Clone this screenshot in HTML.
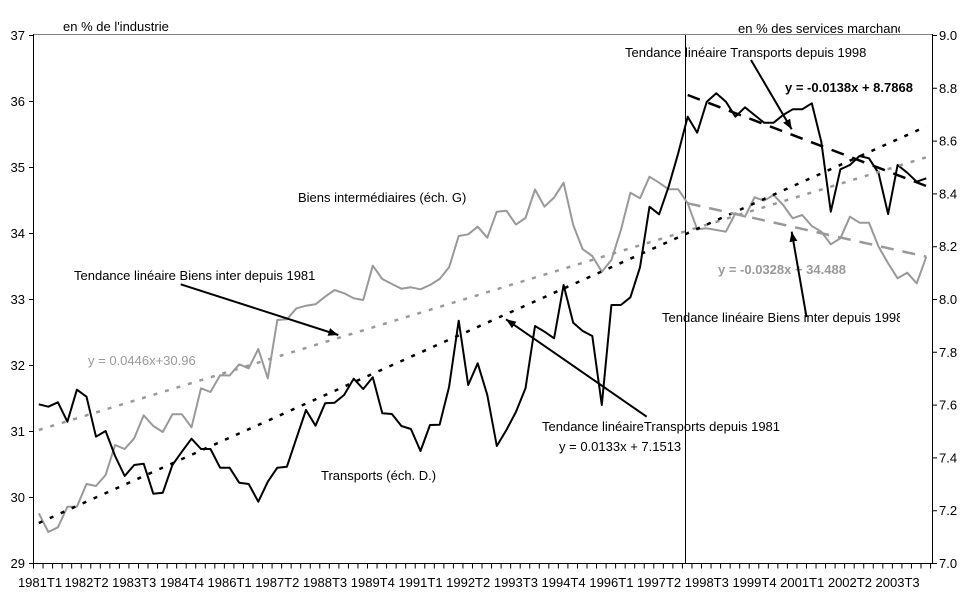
<!DOCTYPE html>
<html><head><meta charset="utf-8"><style>
html,body{margin:0;padding:0;background:#fff;}
svg{display:block;}
text{font-family:"Liberation Sans",Arial,sans-serif;font-size:13px;fill:#000;}
</style></head><body>
<svg width="970" height="603" viewBox="0 0 970 603" xmlns="http://www.w3.org/2000/svg">
<defs>
<marker id="ah" markerUnits="userSpaceOnUse" markerWidth="11" markerHeight="9" refX="10" refY="4" orient="auto"><path d="M0,0 L10,4 L0,8 z" fill="#000"/></marker>
<clipPath id="clipR"><rect x="0" y="0" width="900" height="603"/></clipPath>
</defs>
<rect width="970" height="603" fill="#fff"/>
<!-- plot frame -->
<line x1="33" y1="34.5" x2="932" y2="34.5" stroke="#808080" stroke-width="1"/>
<line x1="33.5" y1="34" x2="33.5" y2="564" stroke="#000" stroke-width="1"/>
<line x1="932.5" y1="34" x2="932.5" y2="564" stroke="#000" stroke-width="1"/>
<line x1="33" y1="563.5" x2="933" y2="563.5" stroke="#000" stroke-width="1"/>
<!-- ticks -->
<line x1="29" y1="35" x2="29" y2="564" stroke="#000" stroke-width="0"/>
<path d="M29,35.5h4M29,101.5h4M29,167.5h4M29,233.5h4M29,299.5h4M29,365.5h4M29,431.5h4M29,497.5h4M29,563.5h4" stroke="#000" stroke-width="1"/>
<path d="M933,35.5h4M933,88.3h4M933,141.1h4M933,193.9h4M933,246.7h4M933,299.5h4M933,352.3h4M933,405.1h4M933,457.9h4M933,510.7h4M933,563.5h4" stroke="#000" stroke-width="1"/>
<line x1="33" y1="566" x2="933" y2="566" stroke="#000" stroke-width="5" stroke-dasharray="1 8.543"/>
<!-- vertical 1998 line -->
<line x1="685.5" y1="35" x2="685.5" y2="563" stroke="#000" stroke-width="1"/>
<!-- axis labels -->
<g text-anchor="end">
<text x="25" y="40">37</text><text x="25" y="106">36</text><text x="25" y="172">35</text><text x="25" y="238">34</text><text x="25" y="304">33</text><text x="25" y="370">32</text><text x="25" y="436">31</text><text x="25" y="502">30</text><text x="25" y="568">29</text>
</g>
<g>
<text x="939" y="40">9.0</text><text x="939" y="92.8">8.8</text><text x="939" y="145.6">8.6</text><text x="939" y="198.4">8.4</text><text x="939" y="251.2">8.2</text><text x="939" y="304">8.0</text><text x="939" y="356.8">7.8</text><text x="939" y="409.6">7.6</text><text x="939" y="462.4">7.4</text><text x="939" y="515.2">7.2</text><text x="939" y="568">7.0</text>
</g>
<g text-anchor="middle">
<text x="40" y="587">1981T1</text><text x="86.5" y="587">1982T2</text><text x="134.2" y="587">1983T3</text><text x="181.9" y="587">1984T4</text><text x="229.6" y="587">1986T1</text><text x="277.3" y="587">1987T2</text><text x="325.1" y="587">1988T3</text><text x="372.8" y="587">1989T4</text><text x="420.5" y="587">1991T1</text><text x="468.2" y="587">1992T2</text><text x="515.9" y="587">1993T3</text><text x="563.6" y="587">1994T4</text><text x="611.4" y="587">1996T1</text><text x="659.1" y="587">1997T2</text><text x="706.8" y="587">1998T3</text><text x="754.5" y="587">1999T4</text><text x="802.2" y="587">2001T1</text><text x="849.9" y="587">2002T2</text><text x="897.6" y="587">2003T3</text>
</g>
<!-- series -->
<polyline fill="none" stroke="#999" stroke-width="2" stroke-linejoin="round" points="38.8,513.3 48.3,532 57.9,527.3 67.4,506.7 76.9,506.7 86.5,484 96.0,486 105.6,475 115.1,445 124.7,449 134.2,438.3 143.7,415.3 153.3,426 162.8,432 172.4,414.3 181.9,414.3 191.5,427.3 201.0,388.3 210.5,392 220.1,375.3 229.6,375.5 239.2,364.3 248.7,368.3 258.3,349 267.8,378.3 277.3,320 286.9,319.3 296.4,308.3 306.0,305.7 315.5,304.3 325.1,296.7 334.6,290 344.1,293.3 353.7,298.3 363.2,300 372.8,265.7 382.3,279 391.9,284 401.4,288.7 410.9,287.3 420.5,289.3 430.0,285 439.6,279 449.1,267.3 458.7,236 468.2,234.3 477.7,226.7 487.3,237.7 496.8,211.7 506.4,210.7 515.9,224.5 525.5,218 535.0,189.5 544.5,206.7 554.1,197.5 563.6,182.7 573.2,225 582.7,249.2 592.3,256 601.8,271.7 611.4,260 620.9,230 630.4,192.7 640.0,198.3 649.5,176.7 659.1,182.7 668.6,189.3 678.2,189.3 687.7,203.3 697.2,229.3 706.8,228.3 716.3,230 725.9,231.7 735.4,213.3 745.0,216.7 754.5,197.3 764.0,200.7 773.6,195 783.1,205 792.7,218.3 802.2,215 811.8,226 821.3,231.7 830.8,244.3 840.4,238.3 849.9,216.7 859.5,222.7 869.0,222.7 878.6,246.7 888.1,263.3 897.6,278.3 907.2,272.7 916.7,283.3 926.3,256.7"/>
<polyline fill="none" stroke="#000" stroke-width="2" stroke-linejoin="round" points="38.8,404.3 48.3,406.7 57.9,402.3 67.4,421.7 76.9,389.7 86.5,396.7 96.0,436.7 105.6,431 115.1,456 124.7,476 134.2,465 143.7,463.7 153.3,493.7 162.8,492.7 172.4,465 181.9,451.7 191.5,438.7 201.0,449 210.5,449 220.1,467.7 229.6,467.7 239.2,482.7 248.7,484 258.3,501.7 267.8,481.7 277.3,467.7 286.9,466.7 296.4,438.3 306.0,410 315.5,425.7 325.1,403.3 334.6,402.7 344.1,395 353.7,378.7 363.2,389 372.8,377.3 382.3,413.3 391.9,414 401.4,426 410.9,429 420.5,451 430.0,425 439.6,424.7 449.1,386.7 458.7,320.7 468.2,385 477.7,363.3 487.3,395 496.8,446 506.4,430 515.9,412 525.5,388.3 535.0,326 544.5,331.7 554.1,338.3 563.6,285 573.2,322.7 582.7,331 592.3,336 601.8,405 611.4,305 620.9,305 630.4,297.3 640.0,267.3 649.5,206.7 659.1,214.3 668.6,186.7 678.2,153.3 687.7,116.7 697.2,132.7 706.8,101.7 716.3,93.3 725.9,101.7 735.4,116.7 745.0,107.3 754.5,115 764.0,122.7 773.6,122.7 783.1,115 792.7,109.3 802.2,109.3 811.8,103.3 821.3,141.7 830.8,211.7 840.4,169.3 849.9,165 859.5,156 869.0,158.3 878.6,173.3 888.1,214 897.6,165 907.2,172.7 916.7,181.7 926.3,178.3"/>
<!-- trend lines -->
<line x1="38.8" y1="430" x2="926.3" y2="157.3" stroke="#999" stroke-width="2.5" stroke-dasharray="4 8"/>
<line x1="38.8" y1="523" x2="926.3" y2="126.5" stroke="#000" stroke-width="2.5" stroke-dasharray="4 8"/>
<line x1="687.7" y1="95" x2="926.3" y2="186" stroke="#000" stroke-width="2.5" stroke-dasharray="13 9"/>
<line x1="687.7" y1="203.3" x2="926.3" y2="256.7" stroke="#999" stroke-width="2.5" stroke-dasharray="13 9"/>
<!-- annotations -->
<text x="63" y="31">en % de l'industrie</text>
<text x="738" y="33" clip-path="url(#clipR)">en % des services marchands</text>
<text x="625" y="57">Tendance linéaire Transports depuis 1998</text>
<text x="785" y="92" font-weight="bold">y = -0.0138x + 8.7868</text>
<text x="298" y="202">Biens intermédiaires (éch. G)</text>
<text x="74" y="280">Tendance linéaire Biens inter depuis 1981</text>
<text x="718" y="274" font-weight="bold" style="fill:#999">y = -0.0328x + 34.488</text>
<text x="662" y="322" clip-path="url(#clipR)">Tendance linéaire Biens inter depuis 1998</text>
<text x="88" y="365" style="fill:#999">y = 0.0446x+30.96</text>
<text x="542" y="431">Tendance linéaireTransports depuis 1981</text>
<text x="559" y="451">y = 0.0133x + 7.1513</text>
<text x="321" y="480">Transports (éch. D.)</text>
<!-- arrows -->
<g stroke="#000" stroke-width="2" fill="none" marker-end="url(#ah)">
<line x1="751" y1="60" x2="791.7" y2="129.3"/>
<line x1="180.7" y1="284.3" x2="338.3" y2="335"/>
<line x1="646.7" y1="416.7" x2="506" y2="319.3"/>
<line x1="806.5" y1="317" x2="791.7" y2="231.7"/>
</g>
</svg>
</body></html>
